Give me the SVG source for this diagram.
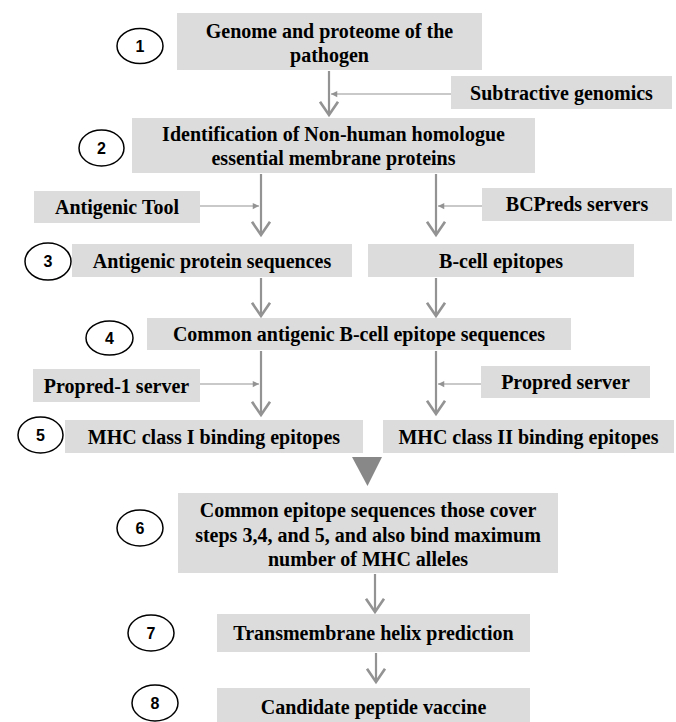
<svg xmlns="http://www.w3.org/2000/svg" width="676" height="722" viewBox="0 0 676 722">
<style>
.box{fill:#dcdcdc;stroke:none}
.t{font-family:"Liberation Serif","Times New Roman",serif;font-weight:bold;font-size:20px;fill:#000;text-anchor:middle}
.num{font-family:"Liberation Sans",Arial,sans-serif;font-weight:bold;font-size:16px;fill:#000;text-anchor:middle}
.circ{fill:#fff;stroke:#000;stroke-width:1.5}
.main{stroke:#939393;stroke-width:2.2;fill:none;marker-end:url(#open)}
.side{stroke:#939393;stroke-width:1.2;fill:none;marker-end:url(#small)}
</style>
<defs>
<marker id="open" markerUnits="userSpaceOnUse" markerWidth="24" markerHeight="24" viewBox="-14 -10 16 20" refX="0" refY="0" orient="auto" overflow="visible">
<path d="M-11,-7.5 L0,0 L-11,7.5" fill="none" stroke="#939393" stroke-width="2.2"/>
</marker>
<marker id="small" markerUnits="userSpaceOnUse" markerWidth="10" markerHeight="10" viewBox="-6 -4 8 8" refX="0" refY="0" orient="auto" overflow="visible">
<path d="M-5,-2.5 L0,0 L-5,2.5 z" fill="#939393"/>
</marker>
</defs>
<rect width="676" height="722" fill="#fff"/>

<g id="connectors">
<line class="main" x1="329" y1="71" x2="329" y2="115"/>
<line class="side" x1="451" y1="94" x2="331" y2="94"/>
<line class="main" x1="261" y1="174" x2="261" y2="235"/>
<line class="side" x1="200" y1="206" x2="259" y2="206"/>
<line class="main" x1="436" y1="174" x2="436" y2="235"/>
<line class="side" x1="482" y1="206" x2="438" y2="206"/>
<line class="main" x1="261" y1="278" x2="261" y2="316"/>
<line class="main" x1="436" y1="278" x2="436" y2="316"/>
<line class="main" x1="261" y1="351" x2="261" y2="415"/>
<line class="side" x1="200" y1="384" x2="259" y2="384"/>
<line class="main" x1="436" y1="351" x2="436" y2="414"/>
<line class="side" x1="481" y1="384" x2="438" y2="384"/>
<polygon points="352,457 382,457 367.5,486" fill="#888888"/>
<line class="main" x1="375" y1="574" x2="375" y2="612"/>
<line class="main" x1="376" y1="653" x2="376" y2="682"/>
</g>

<g id="n1">
<ellipse class="circ" cx="140" cy="46" rx="23" ry="17.5"/>
<text class="num" x="140" y="51.5">1</text>
<rect class="box" x="177" y="13" width="305" height="57"/>
<text class="t" x="329.5" y="38">Genome and proteome of the</text>
<text class="t" x="329.5" y="62">pathogen</text>
</g>

<g id="subtractive">
<rect class="box" x="451" y="76" width="221" height="33"/>
<text class="t" x="561.5" y="100">Subtractive genomics</text>
</g>

<g id="n2">
<ellipse class="circ" cx="101.5" cy="148" rx="22.5" ry="18"/>
<text class="num" x="101.5" y="153.5">2</text>
<rect class="box" x="132" y="118" width="403" height="55"/>
<text class="t" x="333.5" y="141">Identification of Non-human homologue</text>
<text class="t" x="333.5" y="165">essential membrane proteins</text>
</g>

<g id="antigenic-tool">
<rect class="box" x="34" y="191" width="166" height="32"/>
<text class="t" x="117" y="214">Antigenic Tool</text>
</g>

<g id="bcpreds">
<rect class="box" x="482" y="188" width="190" height="33"/>
<text class="t" x="577" y="211">BCPreds servers</text>
</g>

<g id="n3">
<ellipse class="circ" cx="48" cy="261.5" rx="23" ry="18.5"/>
<text class="num" x="48" y="267">3</text>
<rect class="box" x="72" y="244" width="280" height="33"/>
<text class="t" x="212" y="268">Antigenic protein sequences</text>
</g>

<g id="bcell">
<rect class="box" x="368" y="244" width="266" height="33"/>
<text class="t" x="501" y="268">B-cell epitopes</text>
</g>

<g id="n4">
<ellipse class="circ" cx="109.5" cy="338" rx="23.5" ry="17"/>
<text class="num" x="109.5" y="343.5">4</text>
<rect class="box" x="147" y="318" width="424" height="32"/>
<text class="t" x="359" y="341">Common antigenic B-cell epitope sequences</text>
</g>

<g id="propred1">
<rect class="box" x="33" y="369" width="167" height="33"/>
<text class="t" x="116.5" y="393">Propred-1 server</text>
</g>

<g id="propred">
<rect class="box" x="481" y="366" width="169" height="32"/>
<text class="t" x="565.5" y="389">Propred server</text>
</g>

<g id="n5">
<ellipse class="circ" cx="40.5" cy="435" rx="22.5" ry="18"/>
<text class="num" x="40.5" y="440.5">5</text>
<rect class="box" x="65" y="420" width="298" height="33"/>
<text class="t" x="214" y="444">MHC class I binding epitopes</text>
</g>

<g id="mhc2">
<rect class="box" x="383" y="420" width="291" height="33"/>
<text class="t" x="528.5" y="444">MHC class II binding epitopes</text>
</g>

<g id="n6">
<ellipse class="circ" cx="140" cy="528" rx="23" ry="18"/>
<text class="num" x="140" y="533.5">6</text>
<rect class="box" x="178" y="493" width="380" height="80"/>
<text class="t" x="368" y="517">Common epitope sequences those cover</text>
<text class="t" x="368" y="542">steps 3,4, and 5, and also bind maximum</text>
<text class="t" x="368" y="566">number of MHC alleles</text>
</g>

<g id="n7">
<ellipse class="circ" cx="151" cy="633" rx="23" ry="18"/>
<text class="num" x="151" y="638.5">7</text>
<rect class="box" x="217" y="614" width="313" height="38"/>
<text class="t" x="373.5" y="640">Transmembrane helix prediction</text>
</g>

<g id="n8">
<ellipse class="circ" cx="155" cy="703" rx="23" ry="18"/>
<text class="num" x="155" y="708.5">8</text>
<rect class="box" x="217" y="688" width="313" height="40"/>
<text class="t" x="373.5" y="714">Candidate peptide vaccine</text>
</g>
</svg>
